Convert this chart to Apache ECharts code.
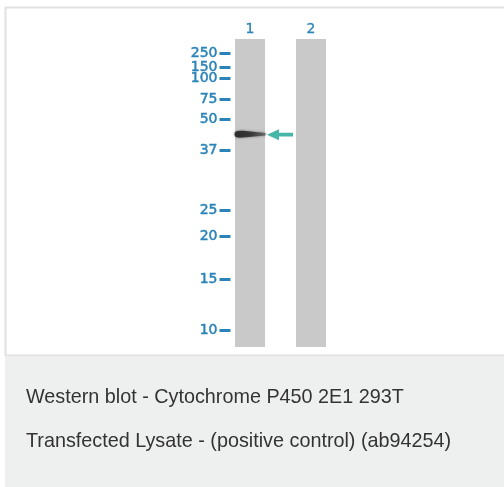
<!DOCTYPE html>
<html>
<head>
<meta charset="utf-8">
<script src="https://cdn.jsdelivr.net/npm/echarts@6/dist/echarts.min.js"></script>
<style>
html,body{margin:0;padding:0;background:#fff;}
#c{width:504px;height:487px;}
</style>
</head>
<body>
<div id="c"></div>
<script>
// Lanes of the blot
var lanes = ['1', '2'];
// Lane length in relative migration units (0 = top of lane, 100 = bottom)
var laneLength = [100, 100];
// Molecular weight marker ladder (kDa) and their migration (relative units)
var markerWeights = [250, 150, 100, 75, 50, 37, 25, 20, 15, 10];
var markerMigration = [4.64, 9.25, 12.66, 19.58, 26.07, 36.27, 55.52, 63.96, 78.02, 94.71];
// Detected band
var bandLane = ['1'];
var bandMigration = [30.9];
// Caption
var captionLines = [
  'Western blot - Cytochrome P450 2E1 293T',
  'Transfected Lysate - (positive control) (ab94254)'
];

var teal = '#2a84b8';
var chart = echarts.init(document.getElementById('c'), null, {renderer: 'canvas'});

// split the ladder into two interleaved sets so close labels are not dropped
var setA = markerMigration.filter(function (_, i) { return i % 2 === 0; });
var setB = markerMigration.filter(function (_, i) { return i % 2 === 1; });

function ladderAxis(values) {
  return {
    type: 'value',
    position: 'left',
    inverse: true,
    min: 0,
    max: 100,
    offset: -11,
    axisLine: {show: false},
    splitLine: {show: false},
    axisTick: {
      show: true,
      customValues: values,
      length: 11,
      lineStyle: {color: teal, width: 3}
    },
    axisLabel: {
      customValues: values,
      showMinLabel: true,
      showMaxLabel: true,
      color: teal,
      fontSize: 14,
      fontFamily: '"DejaVu Sans", sans-serif',
      textBorderColor: teal,
      textBorderWidth: 0.5,
      margin: 13,
      formatter: function (v) {
        for (var i = 0; i < markerMigration.length; i++) {
          if (Math.abs(markerMigration[i] - v) < 1e-6) return String(markerWeights[i]);
        }
        return '';
      }
    }
  };
}

var option = {
  animation: false,
  backgroundColor: '#ffffff',
  graphic: [
    {type: 'rect', z: -10, silent: true,
     shape: {x: 5.5, y: 7.5, width: 520, height: 348},
     style: {fill: '#ffffff', stroke: '#e1e1e1', lineWidth: 2}},
    {type: 'rect', z: -9, silent: true,
     shape: {x: 5, y: 356, width: 499, height: 131},
     style: {fill: '#eef0ef'}},
    {type: 'text', left: 26, top: 388, silent: true,
     style: {text: captionLines[0], fill: '#333333', font: '19.8px "Liberation Sans", Arial, sans-serif'}},
    {type: 'text', left: 26, top: 432, silent: true,
     style: {text: captionLines[1], fill: '#333333', font: '19.8px "Liberation Sans", Arial, sans-serif'}}
  ],
  grid: {left: 219.5, right: 162.5, top: 39, bottom: 140, containLabel: false},
  xAxis: {
    type: 'category',
    data: lanes,
    position: 'top',
    axisLine: {show: false},
    axisTick: {show: false},
    splitLine: {show: false},
    axisLabel: {color: teal, fontSize: 14, fontFamily: '"DejaVu Sans", sans-serif', margin: 3,
                textBorderColor: teal, textBorderWidth: 0.3}
  },
  yAxis: [ladderAxis(setA), ladderAxis(setB)],
  series: [
    {
      type: 'bar',
      data: laneLength,
      barWidth: 30,
      itemStyle: {color: '#c9c9c9'},
      silent: true,
      z: 1
    },
    {
      type: 'scatter',
      data: bandLane.map(function (l, i) { return [l, bandMigration[i]]; }),
      symbol: 'path://M0,3 C0,0.2 3,0 9,0.3 L32,2 L32,4 L9,5.7 C3,6 0,5.8 0,3 Z',
      symbolSize: [31, 7],
      itemStyle: {
        color: new echarts.graphic.LinearGradient(0, 0, 1, 0, [
          {offset: 0, color: '#161616'},
          {offset: 0.55, color: '#262626'},
          {offset: 1, color: '#5e5e5e'}
        ]),
        shadowBlur: 3,
        shadowColor: 'rgba(0,0,0,0.5)'
      },
      silent: true,
      z: 3
    },
    {
      type: 'scatter',
      data: bandLane.map(function (l, i) { return [l, bandMigration[i]]; }),
      symbol: 'path://M0,5.5 L12,0 L12,3.7 L26,3.7 L26,7.3 L12,7.3 L12,11 Z',
      symbolSize: [26, 11],
      symbolOffset: [30, 0.5],
      itemStyle: {color: '#16a593'},
      silent: true,
      z: 4
    }
  ]
};
chart.setOption(option);
</script>
</body>
</html>
